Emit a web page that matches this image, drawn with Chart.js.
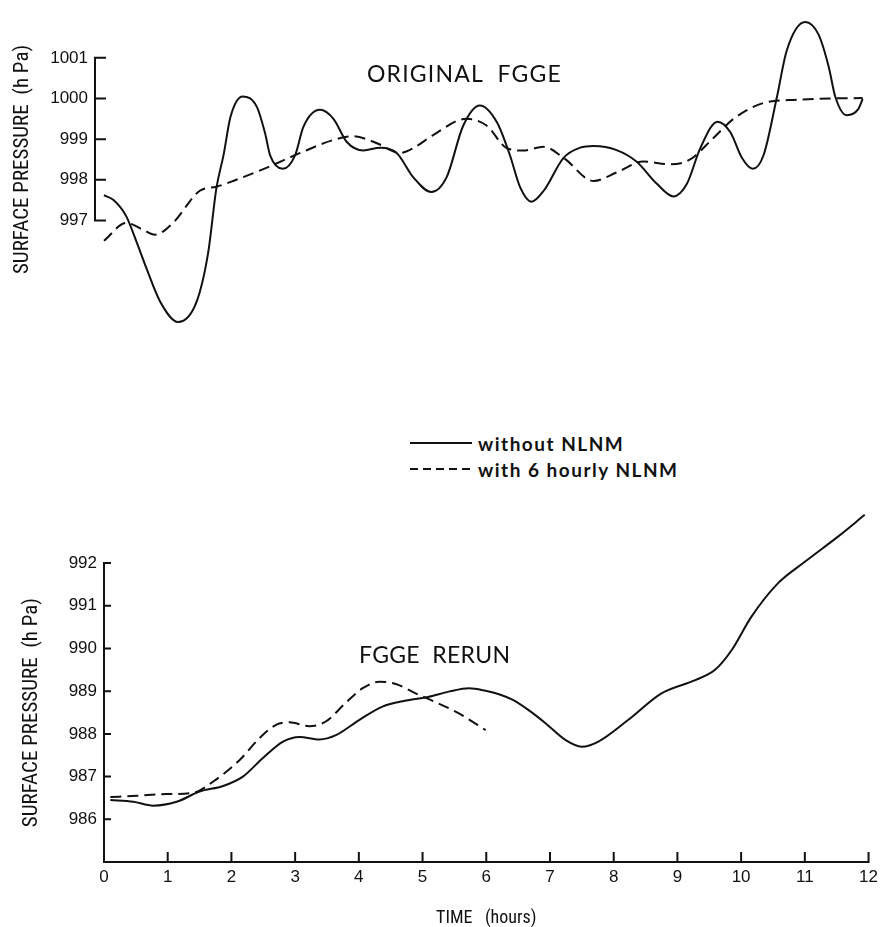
<!DOCTYPE html>
<html>
<head>
<meta charset="utf-8">
<title>Surface pressure: original FGGE and FGGE rerun</title>
<script src="https://cdn.jsdelivr.net/npm/chart.js@4.4.1/dist/chart.umd.min.js"></script>
<style>
  html, body { margin: 0; padding: 0; background: #fff; }
  #page { position: relative; width: 883px; height: 927px; overflow: hidden; background: #fff; }
  #topWrap { position: absolute; left: 0; top: 0; width: 883px; height: 360px; }
  #botWrap { position: absolute; left: 0; top: 500px; width: 883px; height: 427px; }
  canvas { display: block; }
  .note { position: absolute; color: #111; white-space: nowrap; line-height: 1; }
  .panelName { font-family: Lato, "Open Sans", sans-serif; font-size: 23px; }
  .key { position: absolute; left: 410px; height: 22px; display: flex; align-items: center; }
  .key svg { display: block; margin-right: 6px; }
  .key span { font-family: Lato, "Open Sans", sans-serif; font-weight: 700; font-size: 19px; letter-spacing: 1.5px; color: #111; }
</style>
</head>
<body>
<div id="page">
  <div id="topWrap"><canvas id="topChart" width="883" height="360"></canvas></div>
  <div id="botWrap"><canvas id="botChart" width="883" height="427"></canvas></div>

  <div class="note panelName" style="left:367px; top:62px; letter-spacing:1.2px;">ORIGINAL&nbsp; FGGE</div>
  <div class="note panelName" style="left:359px; top:643px; letter-spacing:0.3px;">FGGE&nbsp; RERUN</div>

  <div class="key" style="top:432px;">
    <svg width="62" height="4"><line x1="0" y1="2" x2="62" y2="2" stroke="#111" stroke-width="2"/></svg>
    <span>without NLNM</span>
  </div>
  <div class="key" style="top:458px;">
    <svg width="62" height="4"><line x1="0" y1="2" x2="62" y2="2" stroke="#111" stroke-width="2" stroke-dasharray="8 5"/></svg>
    <span>with 6 hourly NLNM</span>
  </div>
</div>

<script>
// ---- Original FGGE run (hours, hPa) ----
const origTime = [0.0, 0.15, 0.35, 0.51, 0.67, 0.88, 1.16, 1.45, 1.63, 1.76, 1.87, 1.98, 2.17, 2.39, 2.52, 2.60, 2.80, 2.99,
  3.12, 3.38, 3.59, 3.80, 4.06, 4.32, 4.58, 4.84, 5.12, 5.36, 5.62, 5.88, 6.15, 6.35, 6.51, 6.69, 6.88, 7.19,
  7.45, 7.66, 8.02, 8.33, 8.65, 8.91, 9.12, 9.33, 9.60, 9.80, 9.98, 10.15, 10.32, 10.53, 10.68, 10.97, 11.18,
  11.34, 11.44, 11.62, 11.80, 11.87];
const origWithout = [997.62, 997.5, 997.1, 996.47, 995.8, 995.0, 994.5, 995.0, 996.2, 997.8, 998.6, 999.55, 1000.05, 999.8,
  999.15, 998.6, 998.27, 998.6, 999.3, 999.72, 999.5, 998.93, 998.72, 998.79, 998.66, 998.06, 997.7, 998.06,
  999.33, 999.83, 999.41, 998.61, 997.82, 997.46, 997.73, 998.54, 998.79, 998.83, 998.73, 998.45, 997.9,
  997.59, 997.9, 998.78, 999.43, 999.17, 998.54, 998.27, 998.61, 1000.05, 1001.17, 1001.88, 1001.57,
  1000.77, 1000.05, 999.59, 999.74, 999.99];

const origNlnmTime = [0.0, 0.35, 0.6, 0.80, 1.08, 1.50, 1.76, 2.02, 2.55, 3.07, 3.59, 3.90, 4.27, 4.63, 4.84, 5.15, 5.67,
  5.99, 6.30, 6.56, 6.88, 7.19, 7.66, 8.02, 8.44, 8.86, 9.17, 9.53, 9.85, 10.32, 10.84, 11.36, 11.87];
const origWithNlnm = [996.5, 996.94, 996.78, 996.65, 996.94, 997.73, 997.83, 997.97, 998.3, 998.66, 998.98, 999.07, 998.9,
  998.66, 998.78, 999.1, 999.5, 999.33, 998.78, 998.72, 998.81, 998.54, 997.97, 998.18, 998.45, 998.38,
  998.5, 999.02, 999.5, 999.89, 999.97, 1000.0, 1000.01];

// ---- FGGE rerun (hours, hPa) ----
const rerunTime = [0.1, 0.46, 0.77, 1.14, 1.50, 1.87, 2.18, 2.49, 2.81, 3.07, 3.38, 3.64, 4.01, 4.37, 4.74, 5.10, 5.41,
  5.73, 5.99, 6.2, 6.41, 6.67, 6.93, 7.24, 7.50, 7.76, 8.23, 8.75, 9.28, 9.59, 9.85, 10.16, 10.58, 11.0, 11.52, 11.94];
const rerunWithout = [986.45, 986.41, 986.32, 986.41, 986.65, 986.78, 987.0, 987.43, 987.82, 987.93, 987.87, 987.97, 988.33,
  988.64, 988.78, 988.87, 988.99, 989.07, 989.01, 988.93, 988.8, 988.55, 988.25, 987.86, 987.70, 987.82, 988.33,
  988.95, 989.26, 989.50, 989.96, 990.74, 991.53, 992.03, 992.62, 993.13];

const rerunNlnmTime = [0.1, 0.51, 0.98, 1.40, 1.71, 2.13, 2.44, 2.70, 2.91, 3.22, 3.48, 3.79, 4.06, 4.32, 4.58, 4.89, 5.15,
  5.57, 5.99];
const rerunWithNlnm = [986.52, 986.55, 986.59, 986.62, 986.88, 987.39, 987.90, 988.21, 988.27, 988.18, 988.29, 988.72, 989.07,
  989.22, 989.17, 988.95, 988.78, 988.48, 988.09];

// ---- Tick labels ----
const topPressureTicks = [997, 998, 999, 1000, 1001];
const bottomPressureTicks = [986, 987, 988, 989, 990, 991, 992];
const hourTicks = [0, 1, 2, 3, 4, 5, 6, 7, 8, 9, 10, 11, 12];

const INK = '#111';
const NARROW = "'Noto Sans Condensed', 'Roboto Condensed', 'Liberation Sans Narrow', 'DejaVu Sans Condensed', sans-serif";
const REGULAR = "'Liberation Sans', 'DejaVu Sans', sans-serif";

Chart.defaults.color = INK;
Chart.defaults.font.family = REGULAR;

function points(xs, ys) {
  return xs.map((x, i) => ({ x: x, y: ys[i] }));
}

function series(label, xs, ys, dashed) {
  return {
    label: label,
    data: points(xs, ys),
    borderColor: INK,
    borderWidth: 2,
    borderDash: dashed ? [11, 6] : [],
    pointRadius: 0,
    pointHoverRadius: 0,
    fill: false,
    clip: false,
    cubicInterpolationMode: 'monotone'
  };
}

// Draws the axis lines and inward-pointing tick marks from the scales.
const axisPainter = {
  id: 'axisPainter',
  afterDatasetsDraw(chart, args, opts) {
    const ctx = chart.ctx;
    const ys = chart.scales.y;
    const xs = chart.scales.x;
    const ax = chart.chartArea.left;
    ctx.save();
    ctx.strokeStyle = INK;
    ctx.lineWidth = 2;
    ctx.lineCap = 'square';
    ctx.setLineDash([]);

    const yTopPx = ys.getPixelForValue(opts.yFrom);
    const yBotPx = opts.xAxis ? chart.chartArea.bottom : ys.getPixelForValue(opts.yTo);
    ctx.beginPath();
    ctx.moveTo(ax, yTopPx);
    ctx.lineTo(ax, yBotPx);
    ys.ticks.forEach(t => {
      const py = ys.getPixelForValue(t.value);
      ctx.moveTo(ax, py);
      ctx.lineTo(ax + opts.yTickLen, py);
    });
    if (opts.xAxis) {
      const base = chart.chartArea.bottom;
      const xEnd = xs.getPixelForValue(xs.max);
      ctx.moveTo(ax, base);
      ctx.lineTo(xEnd, base);
      xs.ticks.forEach(t => {
        if (t.value === xs.min) return;
        const px = xs.getPixelForValue(t.value);
        ctx.moveTo(px, base);
        ctx.lineTo(px, base - opts.xTickLen);
      });
    }
    ctx.stroke();
    ctx.restore();
  }
};

function pressureAxis(min, max, ticks, width, titleOffset) {
  return {
    type: 'linear',
    min: min,
    max: max,
    afterBuildTicks: s => { s.ticks = ticks.map(v => ({ value: v })); },
    afterFit: s => { s.width = width; },
    grid: { display: false, drawTicks: false },
    border: { display: false },
    ticks: {
      padding: 7,
      font: { family: REGULAR, size: 17 },
      color: INK,
      callback: v => String(v)
    },
    title: {
      display: true,
      text: 'SURFACE PRESSURE  (h Pa)',
      color: INK,
      font: { family: NARROW, size: 21, weight: 'condensed', lineHeight: 1 },
      padding: { top: titleOffset, bottom: 0 }
    }
  };
}

// Upper panel: original FGGE
new Chart(document.getElementById('topChart'), {
  type: 'line',
  data: {
    datasets: [
      series('without NLNM', origTime, origWithout, false),
      series('with 6 hourly NLNM', origNlnmTime, origWithNlnm, true)
    ]
  },
  options: {
    responsive: false,
    animation: false,
    events: [],
    layout: { padding: { left: 0, right: 12, top: 8.75, bottom: 58.3 } },
    plugins: {
      legend: { display: false },
      tooltip: { enabled: false },
      axisPainter: { yFrom: 1001, yTo: 997, yTickLen: 10, xAxis: false }
    },
    scales: {
      x: { type: 'linear', min: -0.14, max: 12, display: false },
      y: pressureAxis(995, 1002, topPressureTicks, 95, 12)
    }
  },
  plugins: [axisPainter]
});

// Lower panel: FGGE rerun
new Chart(document.getElementById('botChart'), {
  type: 'line',
  data: {
    datasets: [
      series('without NLNM', rerunTime, rerunWithout, false),
      series('with 6 hourly NLNM', rerunNlnmTime, rerunWithNlnm, true)
    ]
  },
  options: {
    responsive: false,
    animation: false,
    events: [],
    layout: { padding: { left: 0, right: 12, top: 63.1, bottom: 0 } },
    plugins: {
      legend: { display: false },
      tooltip: { enabled: false },
      axisPainter: { yFrom: 992, yTickLen: 6, xTickLen: 9, xAxis: true }
    },
    scales: {
      x: {
        type: 'linear',
        min: 0,
        max: 12,
        afterBuildTicks: s => { s.ticks = hourTicks.map(v => ({ value: v })); },
        afterFit: s => { s.height = 65; },
        grid: { display: false, drawTicks: false },
        border: { display: false },
        ticks: {
          padding: 5,
          maxRotation: 0,
          autoSkip: false,
          font: { family: REGULAR, size: 17 },
          color: INK,
          callback: v => String(v)
        },
        title: {
          display: true,
          text: 'TIME   (hours)',
          color: INK,
          font: { family: NARROW, size: 18, weight: 'condensed', lineHeight: 1 },
          padding: { top: 0, bottom: 0 }
        }
      },
      y: pressureAxis(985, 992, bottomPressureTicks, 104, 21)
    }
  },
  plugins: [axisPainter]
});
</script>
</body>
</html>
